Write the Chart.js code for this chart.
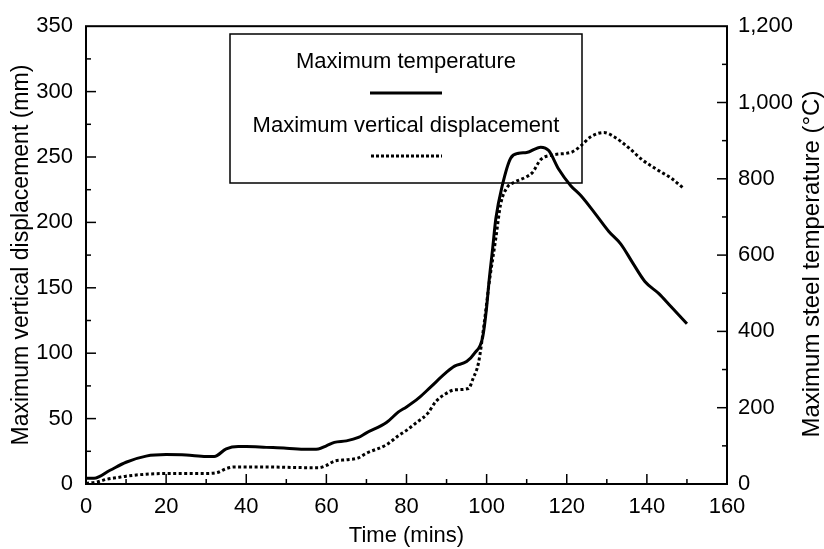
<!DOCTYPE html>
<html>
<head>
<meta charset="utf-8">
<script src="https://cdn.jsdelivr.net/npm/chart.js@4/dist/chart.umd.min.js"></script>
<style>
    body { margin: 0; background: #fff; }
    #wrap { width: 824px; height: 549px; }
</style>
</head>
<body>
<div id="wrap"><canvas id="grafico" width="824" height="549"></canvas></div>
<script>
// maximum steel temperature (deg C), solid line, right axis
const tempTime = [0, 2, 6, 10, 15, 20, 25, 30, 32, 35, 38, 40, 45, 50, 55, 58, 60, 62, 65, 68, 70, 75, 78, 80, 83, 86, 90, 92, 95, 97, 99, 100, 100.6, 101.5, 102.3, 103.9, 106, 108, 110, 113.5, 115.5, 118, 121, 123.5, 127, 130.5, 133.5, 136.5, 139.5, 143, 146, 150]
const tempValues = [15, 15, 36, 57, 73, 77, 76, 72, 72, 92, 98, 98, 96, 94, 91, 92, 100, 109, 113, 122, 134, 161, 189, 202, 225, 254, 293, 309, 321, 343, 384, 463, 531, 617, 696, 782, 854, 867, 869, 883, 874, 825, 782, 756, 710, 662, 629, 579, 531, 499, 465, 420]

// maximum vertical displacement (mm), dotted line, left axis
const dispTime = [0, 3, 5, 8, 10, 15, 20, 30, 33, 35, 37, 45, 55, 58, 60, 62, 65, 68, 70, 75, 78, 80, 82.5, 85.3, 87.3, 89.8, 92, 95.5, 96.6, 98, 99.4, 100.6, 102.3, 103.5, 105.2, 106.8, 109.7, 111.4, 113.5, 116.4, 121.4, 123.5, 126, 129.3, 131.8, 135.5, 138.8, 143, 146, 149.2]
const dispValues = [0.5, 1.7, 3.5, 5, 6, 7.5, 8, 8, 9, 11.8, 13, 13, 12.5, 12.5, 14.2, 17.5, 18.5, 20, 23.5, 30, 37, 41, 47, 54, 63, 69, 72, 73, 80.5, 93, 123, 153, 188, 214, 227, 230.5, 234.5, 238, 248, 251.5, 254, 258.5, 265.5, 268.7, 265.5, 257, 248, 239.5, 234, 226]

const xTicks = [0, 20, 40, 60, 80, 100, 120, 140, 160]
const leftTicks = [0, 50, 100, 150, 200, 250, 300, 350]
const rightTicks = [0, 200, 400, 600, 800, 1000, 1200]

const fonte = "'Liberation Sans', Arial, sans-serif"
const legendLabels = ['Maximum temperature', 'Maximum vertical displacement']

function pontos(xs, ys) {
    return xs.map(function (t, i) { return { x: t, y: ys[i] } })
}

function linha(ctx, x1, y1, x2, y2) {
    ctx.beginPath()
    ctx.moveTo(x1, y1)
    ctx.lineTo(x2, y2)
    ctx.stroke()
}

// frame, inward ticks, boxed legend and the right title
const moldura = {
    id: 'moldura',
    afterDraw(chart) {
        const ctx = chart.ctx
        const a = chart.chartArea
        const sx = chart.scales.x, sy = chart.scales.y, sr = chart.scales.y1
        ctx.save()
        ctx.strokeStyle = '#000'
        ctx.lineWidth = 2
        ctx.setLineDash([])
        ctx.strokeRect(a.left, a.top, a.right - a.left, a.bottom - a.top)

        ctx.lineWidth = 1.5
        for (let v = 10; v < sx.max; v += 10) {
            const px = sx.getPixelForValue(v)
            linha(ctx, px, a.bottom, px, a.bottom - (v % 20 === 0 ? 10 : 5))
        }
        for (let v = 25; v < sy.max; v += 25) {
            const py = sy.getPixelForValue(v)
            linha(ctx, a.left, py, a.left + (v % 50 === 0 ? 10 : 5), py)
        }
        for (let v = 100; v < sr.max; v += 100) {
            const py = sr.getPixelForValue(v)
            linha(ctx, a.right, py, a.right - (v % 200 === 0 ? 10 : 5), py)
        }

        // legend box
        ctx.lineWidth = 1.5
        ctx.strokeRect(230, 34, 352, 149)
        ctx.fillStyle = '#000'
        ctx.font = '22px ' + fonte
        ctx.textAlign = 'center'
        ctx.textBaseline = 'middle'
        ctx.fillText(legendLabels[0], 406, 62)
        ctx.fillText(legendLabels[1], 406, 126)
        ctx.lineWidth = 3
        linha(ctx, 370, 93, 442, 93)
        ctx.setLineDash([3, 2])
        linha(ctx, 371, 156, 442, 156)
        ctx.setLineDash([])

        // right axis title, reading bottom to top
        ctx.translate(812, (a.top + a.bottom) / 2 + 9)
        ctx.rotate(-Math.PI / 2)
        ctx.font = '24px ' + fonte
        ctx.fillText('Maximum steel temperature (°C)', 0, 0)
        ctx.restore()
    }
}

function grafico() {
    const el = document.getElementById('grafico').getContext('2d')
    new Chart(el, {
        type: 'line',
        data: {
            datasets: [{
                label: legendLabels[0],
                data: pontos(tempTime, tempValues),
                yAxisID: 'y1',
                borderColor: '#000',
                borderWidth: 3,
                pointRadius: 0,
                cubicInterpolationMode: 'monotone',
                fill: false
            }, {
                label: legendLabels[1],
                data: pontos(dispTime, dispValues),
                yAxisID: 'y',
                borderColor: '#000',
                borderWidth: 3,
                borderDash: [3, 2.5],
                pointRadius: 0,
                cubicInterpolationMode: 'monotone',
                fill: false
            }]
        },
        options: {
            responsive: false,
            animation: false,
            layout: { padding: { top: 17, left: 0, right: 0, bottom: 0 } },
            plugins: {
                legend: { display: false },
                tooltip: { enabled: false }
            },
            scales: {
                x: {
                    type: 'linear',
                    min: 0,
                    max: 160,
                    afterFit: function (s) { s.height = 65 },
                    afterBuildTicks: function (s) { s.ticks = xTicks.map(function (v) { return { value: v } }) },
                    grid: { display: false, drawTicks: false },
                    border: { display: false },
                    ticks: { color: '#000', padding: 10, maxRotation: 0, font: { family: fonte, size: 22 } },
                    title: { display: true, text: 'Time (mins)', color: '#000', padding: { top: 0, bottom: 0 }, font: { family: fonte, size: 22 } }
                },
                y: {
                    position: 'left',
                    min: 0,
                    max: 350,
                    afterFit: function (s) { s.width = 86 },
                    afterBuildTicks: function (s) { s.ticks = leftTicks.map(function (v) { return { value: v } }) },
                    grid: { display: false, drawTicks: false },
                    border: { display: false },
                    ticks: { color: '#000', padding: 13, font: { family: fonte, size: 22 } },
                    title: { display: true, text: 'Maximum vertical displacement (mm)', color: '#000', padding: { top: 8, bottom: 0 }, font: { family: fonte, size: 23 } }
                },
                y1: {
                    position: 'right',
                    min: 0,
                    max: 1200,
                    afterFit: function (s) { s.width = 97 },
                    afterBuildTicks: function (s) { s.ticks = rightTicks.map(function (v) { return { value: v } }) },
                    grid: { display: false, drawTicks: false },
                    border: { display: false },
                    ticks: {
                        color: '#000',
                        padding: 11,
                        font: { family: fonte, size: 22 },
                        callback: function (v) { return v.toLocaleString('en-US') }
                    }
                }
            }
        },
        plugins: [moldura]
    })
}

grafico()
</script>
</body>
</html>
